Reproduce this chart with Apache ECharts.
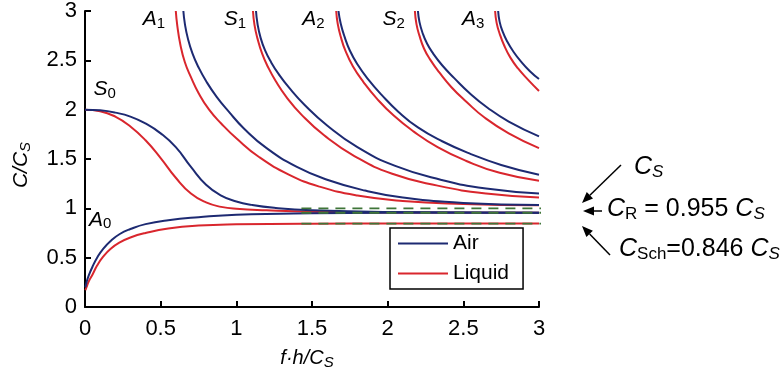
<!DOCTYPE html>
<html>
<head>
<meta charset="utf-8">
<script src="https://cdn.jsdelivr.net/npm/echarts@6/dist/echarts.min.js"></script>
<style>
  html, body { margin: 0; padding: 0; background: #fff; }
  #chart { width: 780px; height: 377px; }
</style>
</head>
<body>
<div id="chart"></div>
<script>
// dispersion curves, points are [f·h/Cs, C/Cs]
const airA0 = [[0.003,0.2],[0.01,0.25],[0.025,0.32],[0.05,0.41],[0.08,0.5],[0.12,0.59],[0.17,0.67],[0.23,0.74],[0.3,0.79],[0.4,0.84],[0.55,0.88],[0.75,0.91],[1.0,0.935],[1.5,0.95],[2,0.954],[3,0.955]];
const liquidA0 = [[0.003,0.17],[0.01,0.2],[0.025,0.26],[0.05,0.33],[0.08,0.42],[0.12,0.51],[0.17,0.59],[0.23,0.655],[0.3,0.705],[0.4,0.75],[0.55,0.795],[0.75,0.825],[1.0,0.838],[1.5,0.845],[2,0.846],[3,0.846]];
const airS0 = [[0,2],[0.1,1.993],[0.2,1.97],[0.3,1.93],[0.4,1.86],[0.5,1.76],[0.6,1.62],[0.7,1.42],[0.8,1.24],[0.9,1.13],[1.0,1.07],[1.1,1.035],[1.25,1.005],[1.5,0.98],[2,0.963],[3,0.956]];
const liquidS0 = [[0,2],[0.1,1.985],[0.2,1.93],[0.3,1.83],[0.4,1.69],[0.5,1.51],[0.6,1.31],[0.7,1.15],[0.8,1.06],[0.9,1.015],[1.0,0.995],[1.2,0.98],[1.5,0.966],[2,0.958],[3,0.955]];
const airA1 = [[0.65,3],[0.66,2.87],[0.68,2.72],[0.71,2.57],[0.75,2.43],[0.8,2.29],[0.87,2.13],[0.95,1.98],[1.05,1.81],[1.2,1.61],[1.4,1.42],[1.6,1.29],[1.85,1.18],[2.1,1.11],[2.5,1.055],[3,1.035]];
const liquidA1 = [[0.6,3],[0.61,2.85],[0.63,2.66],[0.66,2.48],[0.7,2.33],[0.75,2.17],[0.82,2.0],[0.9,1.86],[1.0,1.71],[1.15,1.52],[1.35,1.34],[1.55,1.22],[1.8,1.13],[2.1,1.075],[2.5,1.045],[3,1.03]];
const airS1 = [[1.13,3],[1.14,2.87],[1.16,2.73],[1.19,2.6],[1.23,2.48],[1.28,2.36],[1.35,2.22],[1.45,2.05],[1.6,1.84],[1.8,1.62],[2.05,1.43],[2.35,1.29],[2.65,1.2],[3,1.15]];
const liquidS1 = [[1.11,3],[1.12,2.86],[1.14,2.72],[1.17,2.57],[1.21,2.43],[1.26,2.29],[1.33,2.13],[1.43,1.95],[1.58,1.74],[1.78,1.53],[2.03,1.35],[2.33,1.23],[2.65,1.15],[3,1.11]];
const airA2 = [[1.675,3],[1.69,2.87],[1.715,2.74],[1.75,2.6],[1.8,2.46],[1.87,2.31],[1.96,2.15],[2.07,1.98],[2.2,1.82],[2.36,1.68],[2.55,1.55],[2.75,1.44],[3,1.34]];
const liquidA2 = [[1.66,3],[1.67,2.87],[1.69,2.74],[1.72,2.6],[1.77,2.44],[1.84,2.28],[1.93,2.11],[2.04,1.94],[2.17,1.78],[2.33,1.62],[2.52,1.48],[2.74,1.36],[3,1.28]];
const airS2 = [[2.2,3],[2.21,2.89],[2.23,2.78],[2.26,2.67],[2.3,2.57],[2.36,2.45],[2.44,2.32],[2.54,2.17],[2.66,2.02],[2.8,1.88],[3,1.73]];
const liquidS2 = [[2.18,3],[2.19,2.87],[2.21,2.75],[2.24,2.62],[2.28,2.51],[2.34,2.38],[2.42,2.23],[2.52,2.08],[2.64,1.92],[2.8,1.76],[3,1.61]];
const airA3 = [[2.73,3],[2.74,2.89],[2.76,2.79],[2.79,2.69],[2.83,2.59],[2.88,2.49],[2.94,2.39],[3,2.31]];
const liquidA3 = [[2.71,3],[2.72,2.88],[2.74,2.77],[2.77,2.65],[2.81,2.53],[2.86,2.42],[2.93,2.3],[3,2.19]];

// reference speeds Cs, CR, CSch (in Cs)
const refLevels = [1, 0.955, 0.846];
const refRange = [1.43, 3.33];

const xTicks = ['0', '0.5', '1', '1.5', '2', '2.5', '3'];

const BLUE = '#1d2a72';
const RED = '#d9262d';
const GREEN = '#3f7538';
const FONT = '"Liberation Sans", Arial, Helvetica, sans-serif';

const chart = echarts.init(document.getElementById('chart'));

function curve(name, data, color) {
  return {
    name: name,
    type: 'line',
    data: data,
    symbol: 'none',
    smooth: 0.5,
    lineStyle: { color: color, width: 2 },
    itemStyle: { color: color },
    z: name === 'Air' ? 3 : 2,
    animation: false
  };
}

// text with a lowered subscript
function subRich(size, subSize, subItalic) {
  return {
    m: { fontFamily: FONT, fontSize: size, fontStyle: 'italic', lineHeight: size + 1, verticalAlign: 'top', color: '#000' },
    t: { fontFamily: FONT, fontSize: size, lineHeight: size + 1, verticalAlign: 'top', color: '#000' },
    s: { fontFamily: FONT, fontSize: subSize, fontStyle: subItalic ? 'italic' : 'normal', lineHeight: subSize, padding: [Math.round(size * 0.48), 0, 0, 0], verticalAlign: 'bottom', color: '#000' },
    u: { fontFamily: FONT, fontSize: subSize, lineHeight: subSize, padding: [Math.round(size * 0.48), 0, 0, 0], verticalAlign: 'bottom', color: '#000' }
  };
}

const series = [
  curve('Liquid', liquidA0, RED), curve('Air', airA0, BLUE),
  curve('Liquid', liquidS0, RED), curve('Air', airS0, BLUE),
  curve('Liquid', liquidA1, RED), curve('Air', airA1, BLUE),
  curve('Liquid', liquidS1, RED), curve('Air', airS1, BLUE),
  curve('Liquid', liquidA2, RED), curve('Air', airA2, BLUE),
  curve('Liquid', liquidS2, RED), curve('Air', airS2, BLUE),
  curve('Liquid', liquidA3, RED), curve('Air', airA3, BLUE)
];

// dashed reference lines, they run past the axis end
refLevels.forEach(v => {
  series.push({
    type: 'line',
    data: [[refRange[0], v], [refRange[1], v]],
    symbol: 'none',
    clip: false,
    silent: true,
    lineStyle: { color: GREEN, width: 1.8, type: [10, 7] },
    z: 5,
    animation: false
  });
});

// mode names
series.push({
  type: 'scatter',
  symbolSize: 0,
  silent: true,
  animation: false,
  itemStyle: { opacity: 1 },
  data: [
    { value: [0.1, 0.88], name: 'A|0' },
    { value: [0.13, 2.2], name: 'S|0' },
    { value: [0.455, 2.91], name: 'A|1' },
    { value: [0.99, 2.91], name: 'S|1' },
    { value: [1.51, 2.91], name: 'A|2' },
    { value: [2.04, 2.91], name: 'S|2' },
    { value: [2.565, 2.91], name: 'A|3' }
  ],
  label: {
    show: true,
    opacity: 1,
    position: 'inside',
    formatter: p => {
      const parts = p.name.split('|');
      return '{m|' + parts[0] + '}{u|' + parts[1] + '}';
    },
    rich: subRich(21, 15, false)
  }
});

function arrow(x1, y1, x2, y2) {
  const dx = x2 - x1, dy = y2 - y1;
  const len = Math.hypot(dx, dy);
  const ux = dx / len, uy = dy / len;
  const hl = 11, hw = 4.5;
  const bx = x2 - ux * hl, by = y2 - uy * hl;
  return [
    { type: 'line', shape: { x1: x1, y1: y1, x2: bx, y2: by }, style: { stroke: '#000', lineWidth: 1.5 } },
    { type: 'polygon', shape: { points: [[x2, y2], [bx - uy * hw, by + ux * hw], [bx + uy * hw, by - ux * hw]] }, style: { fill: '#000' } }
  ];
}

const annRich = subRich(25, 17, true);

const option = {
  backgroundColor: '#fff',
  animation: false,
  grid: { left: 77, right: 241, top: 10, bottom: 70 },
  legend: {
    data: ['Air', 'Liquid'],
    orient: 'vertical',
    left: 390,
    top: 228,
    icon: 'rect',
    itemWidth: 50,
    itemHeight: 2,
    itemGap: 9,
    padding: [5, 14, 5, 8],
    borderColor: '#000',
    borderWidth: 1.5,
    backgroundColor: '#fff',
    textStyle: { fontFamily: FONT, fontSize: 21, color: '#000' }
  },
  xAxis: {
    type: 'value',
    min: 0,
    max: 3,
    interval: 0.5,
    name: '{m|f·h/C}{s|S}',
    nameLocation: 'middle',
    nameGap: 38,
    nameTextStyle: { padding: [0, 10, 0, 0], rich: subRich(20, 15, true) },
    axisLine: { lineStyle: { color: '#000', width: 2 } },
    axisTick: { inside: true, length: 6, lineStyle: { color: '#000', width: 2 } },
    axisLabel: { color: '#000', fontFamily: FONT, fontSize: 22, margin: 11, formatter: v => xTicks[Math.round(v * 2)] },
    splitLine: { show: false }
  },
  yAxis: {
    type: 'value',
    min: 0,
    max: 3,
    interval: 0.5,
    name: '{m|C/C}{s|S}',
    nameLocation: 'middle',
    nameGap: 52,
    nameTextStyle: { padding: [0, 12, 0, 0], rich: subRich(21, 15, true) },
    axisLine: { show: true, lineStyle: { color: '#000', width: 2 } },
    axisTick: { show: true, inside: true, length: 6, lineStyle: { color: '#000', width: 2 } },
    axisLabel: { color: '#000', fontFamily: FONT, fontSize: 22, margin: 8 },
    splitLine: { show: false }
  },
  graphic: [].concat(
    arrow(621, 165, 582, 203),
    arrow(602, 211, 583, 211),
    arrow(610, 255, 582, 226),
    [
      { type: 'text', x: 634, y: 155, style: { text: '{m|C}{s|S}', rich: annRich, align: 'left', verticalAlign: 'top' } },
      { type: 'text', x: 607, y: 197, style: { text: '{m|C}{u|R}{t| = 0.955 }{m|C}{s|S}', rich: annRich, align: 'left', verticalAlign: 'top' } },
      { type: 'text', x: 619, y: 237, style: { text: '{m|C}{u|Sch}{t|=0.846 }{m|C}{s|S}', rich: annRich, align: 'left', verticalAlign: 'top' } }
    ]
  ),
  series: series
};

chart.setOption(option);
</script>
</body>
</html>
